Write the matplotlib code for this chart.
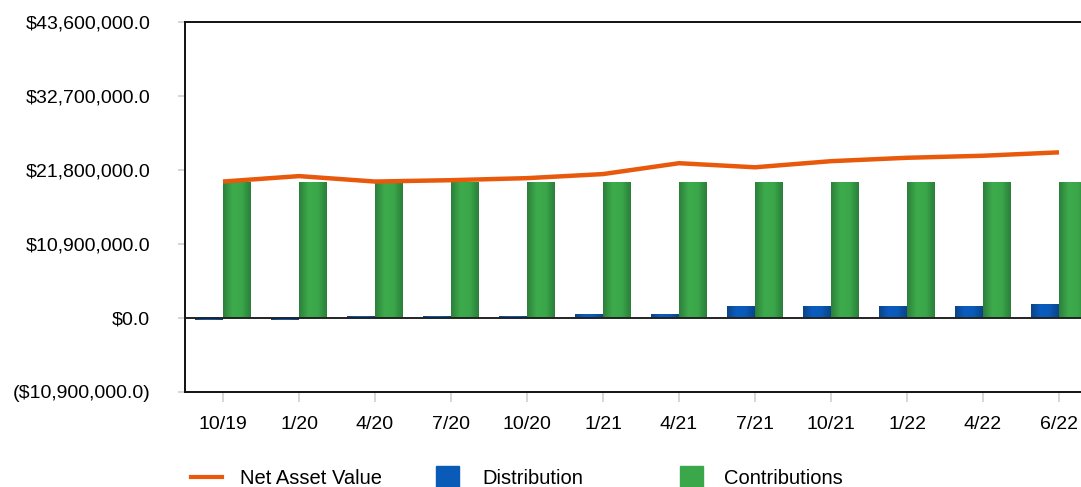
import matplotlib
matplotlib.use("Agg")
import matplotlib.pyplot as plt
import numpy as np
from matplotlib.colors import LinearSegmentedColormap
from matplotlib.lines import Line2D
from matplotlib.patches import Rectangle

plt.rcParams['font.family'] = ['Liberation Sans', 'DejaVu Sans']

categories = ["10/19", "1/20", "4/20", "7/20", "10/20", "1/21", "4/21", "7/21", "10/21", "1/22", "4/22", "6/22"]
nav = [20.1e6, 20.9e6, 20.1e6, 20.3e6, 20.6e6, 21.2e6, 22.8e6, 22.2e6, 23.1e6, 23.6e6, 23.9e6, 24.4e6]
distribution = [-0.3e6, -0.3e6, 0.25e6, 0.25e6, 0.3e6, 0.6e6, 0.6e6, 1.77e6, 1.77e6, 1.77e6, 1.77e6, 2.06e6]
contributions = [20.0e6, 20.0e6, 19.9e6, 20.0e6, 20.0e6, 20.0e6, 20.0e6, 20.0e6, 20.0e6, 20.0e6, 20.0e6, 20.0e6]
yticks = [-10.9e6, 0, 10.9e6, 21.8e6, 32.7e6, 43.6e6]

NAV_C = "#e8590c"
BLUE = "#0a5bb8"
GREEN = "#3aa84a"

W, H = 1081, 487
fig = plt.figure(figsize=(W / 100, H / 100), dpi=100)
ax_l, ax_r, ax_t, ax_b = 185, 1100, 22, 392
ax = fig.add_axes([ax_l / W, 1 - ax_b / H, (ax_r - ax_l) / W, (ax_b - ax_t) / H])

x = np.arange(len(categories))
bw = 28 / 76
xmin = -0.5
xmax = xmin + (ax_r - ax_l) / 76

cm_blue = LinearSegmentedColormap.from_list("b", ["#0b4486", "#0b5cbf", "#0a5ab8", "#0b4486"])
cm_green = LinearSegmentedColormap.from_list("g", ["#2c7f3a", "#3dab4b", "#3aa84a", "#2c7f3a"])
grad = np.linspace(0, 1, 64).reshape(1, -1)


def shaded_bars(xs, vals, cmap, color):
    bars = ax.bar(xs, vals, width=bw, align='edge', color=color, zorder=2)
    for b in bars:
        x0, y0 = b.get_x(), b.get_y()
        w, h = b.get_width(), b.get_height()
        im = ax.imshow(grad, cmap=cmap, aspect='auto',
                       extent=(x0, x0 + w, y0, y0 + h), zorder=2.5,
                       interpolation='bicubic')
        im.set_clip_path(b)
    return bars


shaded_bars(x - bw, distribution, cm_blue, BLUE)
shaded_bars(x, contributions, cm_green, GREEN)

ax.plot(x, nav, color=NAV_C, lw=3.2, zorder=4, solid_capstyle='butt')
ax.axhline(0, color="#222222", lw=1.4, zorder=3)

ax.set_xlim(xmin, xmax)
ax.set_ylim(-10.9e6, 43.6e6)
ax.set_xticks(x)
ax.set_xticklabels(categories, fontsize=14)
ax.set_yticks(yticks)


def fmt(v):
    if v < 0:
        return "(${:,.1f})".format(-v)
    return "${:,.1f}".format(v)


ax.set_yticklabels([fmt(v) for v in yticks], fontsize=14)
ax.tick_params(axis='x', length=7.5, width=1.2, color="#d0d0d0", pad=10)
ax.tick_params(axis='y', length=5, width=1.2, color="#d0d0d0", pad=20)

for s in ['left', 'bottom', 'top']:
    ax.spines[s].set_color("#111111")
    ax.spines[s].set_linewidth(1.4)
ax.spines['right'].set_visible(False)

# Legend (bottom)
ly = 1 - 477 / H
ty = 1 - 479 / H
fig.add_artist(Line2D([191 / W, 222 / W], [ly, ly], color=NAV_C, lw=3, transform=fig.transFigure))
fig.text(240 / W, ty, "Net Asset Value", fontsize=14.5, va='center', ha='left')
fig.add_artist(Rectangle((436 / W, ly - 11 / H), 23 / W, 22 / H, color=BLUE, transform=fig.transFigure))
fig.text(482 / W, ty, "Distribution", fontsize=14.5, va='center', ha='left')
fig.add_artist(Rectangle((680 / W, ly - 11 / H), 23 / W, 22 / H, color=GREEN, transform=fig.transFigure))
fig.text(724 / W, ty, "Contributions", fontsize=14.5, va='center', ha='left')

fig.savefig("out.png", dpi=100)
